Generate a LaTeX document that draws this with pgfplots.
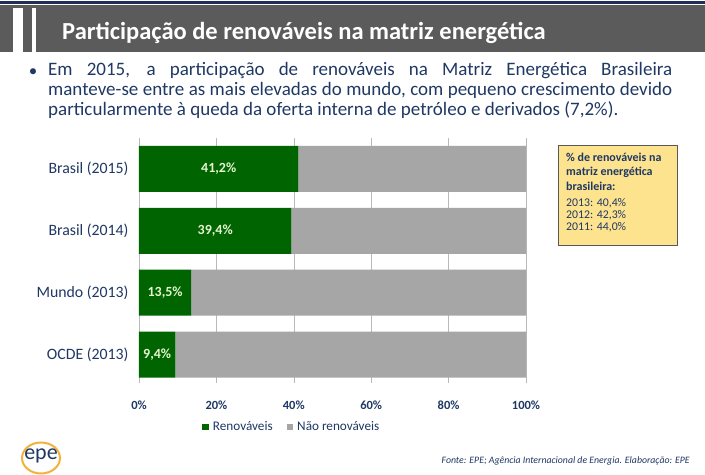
\documentclass[border=0pt]{standalone}
\usepackage{pgfplots}
\usepackage{pgfplotstable}
\pgfplotsset{compat=1.18}
\usepackage{fontspec}
\setmainfont{Carlito}
\definecolor{navy}{HTML}{1F3864}
\definecolor{titlegray}{HTML}{5B5B5B}
\definecolor{topnavy}{HTML}{1F2F5A}
\definecolor{bargreen}{HTML}{006400}
\definecolor{bargray}{HTML}{A6A6A6}
\definecolor{lblgreen}{HTML}{E6F4CF}
\definecolor{boxyellow}{HTML}{FDE38E}
\definecolor{boxborder}{HTML}{595959}
\definecolor{epeorange}{HTML}{F2B33D}
\pgfplotstableread[row sep=\\]{
y ren nao half\\
0 41.2 58.8 20.6\\
1 39.4 60.6 19.7\\
2 13.5 86.5 6.75\\
3 9.4 90.6 4.7\\
}\datatable
\begin{document}
\begin{tikzpicture}[x=1pt,y=1pt]
\path[fill=white] (0,0) rectangle (705,474);
% header
\fill[topnavy] (0,470) rectangle (705,472.5);
\fill[titlegray] (0,422) rectangle (705,469);
\fill[white] (13,422) rectangle (23,466);
\fill[white] (32,422) rectangle (36,466);
\node[anchor=base west, text=white, inner sep=0, font=\fontsize{24.5}{28}\selectfont\bfseries] at (62,434) {Participação de renováveis na matriz energética};
% bullet
\node[anchor=base, text=navy, inner sep=0, font=\fontsize{17}{20}\selectfont] at (33,397) {•};
\node[anchor=north west, text width=624pt, align=justify, inner sep=0, text=navy, font=\fontsize{19}{20}\selectfont] at (48,412) {Em 2015, a participação de renováveis na Matriz Energética Brasileira\linebreak manteve-se entre as mais elevadas do mundo, com pequeno crescimento devido\linebreak particularmente à queda da oferta interna de petróleo e derivados (7,2\%).};
% chart
\begin{axis}[
  at={(139pt,91pt)}, anchor=south west,
  width=387pt, height=245pt, scale only axis,
  xbar stacked, bar width=46pt,
  xmin=0, xmax=100, ymin=-0.5, ymax=3.46, y dir=reverse,
  ytick={0,1,2,3},
  yticklabels={Brasil (2015),Brasil (2014),Mundo (2013),OCDE (2013)},
  xtick={0,20,40,60,80,100},
  xticklabels={0\%,20\%,40\%,60\%,80\%,100\%},
  axis line style={draw=none},
  xmajorgrids, major grid style={draw=gray!55, line width=0.6pt},
  tick style={draw=none},
  yticklabel style={font=\fontsize{15.8}{17}\selectfont, text=navy, xshift=-7pt},
  xticklabel style={font=\fontsize{12.5}{14}\selectfont\bfseries, text=navy, yshift=-14pt},
  legend columns=2,
  legend style={at={(0.395,-0.18)}, anchor=center, draw=none, fill=none,
    font=\fontsize{13.2}{15}\selectfont, text=navy,
    /tikz/every odd column/.append style={column sep=2pt},
    /tikz/every even column/.append style={column sep=12pt}},
  legend image code/.code={\fill[#1] (0pt,-3.2pt) rectangle (6.5pt,3.3pt);},
]
\addplot[fill=bargreen, draw=none] table[x=ren, y=y] {\datatable};
\addplot[fill=bargray, draw=none] table[x=nao, y=y] {\datatable};
\legend{Renováveis, Não renováveis}
\end{axis}
\begin{axis}[
  at={(139pt,91pt)}, anchor=south west,
  width=387pt, height=245pt, scale only axis,
  xmin=0, xmax=100, ymin=-0.5, ymax=3.46, y dir=reverse,
  hide axis,
]
\addplot[draw=none, mark=none, nodes near coords={\pgfmathprintnumber[fixed, precision=1, fixed zerofill, use comma, assume math mode=true]{\pgfplotspointmeta}\%},
  point meta=explicit,
  nodes near coords style={anchor=center, font=\fontsize{14}{15}\selectfont\bfseries, text=lblgreen}]
  table[x=half, y=y, meta=ren] {\datatable};
\end{axis}
% info box
\draw[boxborder, fill=boxyellow, line width=0.8pt] (558,229) rectangle (677,329);
\node[anchor=north west, inner sep=0, align=left, text=navy, font=\fontsize{12}{14.3}\selectfont\bfseries] at (566,321) {\% de renováveis na\\ matriz energética\\ brasileira:};
\node[anchor=north west, inner sep=0, align=left, text=navy, font=\fontsize{11.8}{12.2}\selectfont] at (566,276) {2013: 40,4\%\\ 2012: 42,3\%\\ 2011: 44,0\%};
% logo
\draw[epeorange, line width=2pt] (41,16) ellipse (19 and 15.5);
\node[text=navy, inner sep=0, font=\fontsize{22}{22}\selectfont] at (41,18) {epe};
% footer
\node[anchor=base east, inner sep=0, text=navy, font=\fontsize{9.8}{11}\selectfont\itshape] at (690,10) {Fonte: EPE; Agência Internacional de Energia. Elaboração: EPE};
\end{tikzpicture}
\end{document}
